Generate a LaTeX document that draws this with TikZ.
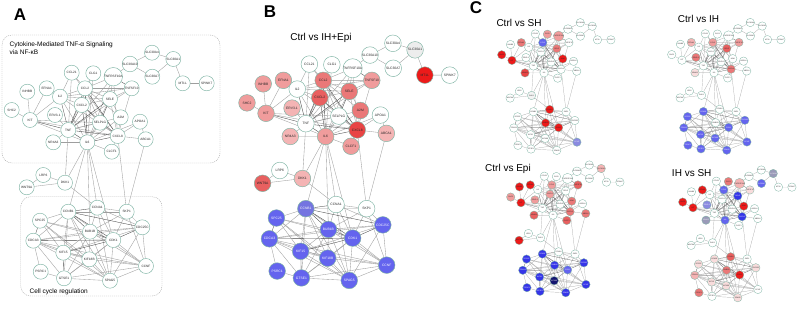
\documentclass[tikz,border=0pt]{standalone}
\usepackage{fontspec}
\setmainfont{Liberation Sans}
\pgfdeclarelayer{bg}
\pgfdeclarelayer{edges}
\pgfsetlayers{bg,edges,main}
\definecolor{nodeb}{HTML}{7DB3A3}
\newcommand\defpal[3]{\definecolor{pal#1}{HTML}{#2}\expandafter\def\csname tc-#1\endcsname{#3}}
\defpal{W}{FFFFFF}{black!85}
\defpal{G1}{EDEDED}{black!85}
\defpal{G2}{F3F3F3}{black!85}
\defpal{P1}{F8DCDC}{black!85}
\defpal{P2}{F4B4B4}{black!85}
\defpal{P3}{F09C9C}{black!85}
\defpal{P4}{EA7878}{black!85}
\defpal{R1}{E86060}{black!85}
\defpal{R2}{E84444}{black!85}
\defpal{R3}{EC1A1A}{black!85}
\defpal{BL1}{8A8AE0}{white}
\defpal{BLc}{7474E0}{white}
\defpal{BL2}{6464EE}{white}
\defpal{BL3}{3535E8}{white}
\defpal{BL4}{151570}{white}
\defpal{GB}{9A9AB8}{white}
\newcommand\gfont{\fontsize{3.2}{3.4}\selectfont}
\tikzset{
 gnode/.style={circle, draw=nodeb, line width=\bline, minimum size=\gsize, inner sep=0pt, font=\gfont},
 gedge/.style={draw=black!38, line width=\eline},
 sedge/.style={draw=black!72, line width=\eline},
 ptitle/.style={font=\fontsize{10}{12}\selectfont},
 plabel/.style={font=\fontsize{17}{20}\selectfont\bfseries},
 gbox/.style={draw=black!35, dash pattern=on 1pt off 1pt, rounded corners=10pt, line width=0.4pt}
}
\newcommand\setc[3]{\foreach \gitem in {#2}{\expandafter\gdef\csname nc-#1-\gitem\endcsname{#3}}}
\newcommand\gn[4]{%
  \def\gcol{W}%
  \ifcsname nc-\pfx-#1\endcsname\edef\gcol{\csname nc-\pfx-#1\endcsname}\fi
  \edef\gtxt{\csname tc-\gcol\endcsname}%
  \edef\gfill{pal\gcol}%
  \node[gnode, fill=\gfill, text=\gtxt] (\pfx-#1) at (#2,#3) {#4};}
\newcommand\gnodes{%
\gn{SLCa4}{152}{52.7}{SLC30A4}
\gn{SLCa1}{173.3}{59}{SLC30A1}
\gn{SLCa10}{130}{64}{SLC30A10}
\gn{SLCa7}{152.3}{76.7}{SLC30A7}
\gn{MT}{182.7}{83.3}{MT1L}
\gn{SPINK7}{206.7}{83.3}{SPINK7}
\gn{CCL21}{71.7}{72.7}{CCL21}
\gn{CLG1}{93.3}{73.3}{CLG1}
\gn{TNFRSF}{113.3}{76.7}{TNFRSF10A}
\gn{EFNA1}{46.7}{88.3}{EFNA1}
\gn{INHBB}{27.3}{91.7}{INHBB}
\gn{IL2}{60}{96.7}{IL2}
\gn{CCL2}{85}{88.3}{CCL2}
\gn{TNFSF}{131.7}{88.3}{TNFSF10}
\gn{SELE}{110}{99}{SELE}
\gn{CXCL2}{81.7}{105}{CXCL2}
\gn{SHC2}{11.7}{110}{SHC2}
\gn{KIT}{30}{120}{KIT}
\gn{ERV}{55}{115}{ERV3-1}
\gn{A2M}{120.7}{117.3}{A2M}
\gn{APOA1}{140}{121.7}{APOA1}
\gn{SELPLG}{100}{122.7}{SELPLG}
\gn{TNF}{68.3}{130}{TNF}
\gn{CXCL8}{117.7}{136}{CXCL8}
\gn{ABCA1}{145.7}{139.3}{ABCA1}
\gn{NR4A3}{53.3}{142.3}{NR4A3}
\gn{IL6}{87.3}{142.3}{IL6}
\gn{CLCF1}{111.7}{151.7}{CLCF1}
\gn{LRP6}{43.3}{175}{LRP6}
\gn{DKK1}{65}{182.7}{DKK1}
\gn{WNT9A}{26.7}{187.3}{WNT9A}
\gn{CCNB1}{68.3}{211.7}{CCNB1}
\gn{CCNA1}{97.3}{207.7}{CCNA1}
\gn{SKP1}{126.7}{211.7}{SKP1}
\gn{SPC25}{40}{220.7}{SPC25}
\gn{BUB1B}{90}{231.7}{BUB1B}
\gn{CDC25C}{142.3}{227.3}{CDC25C}
\gn{CDCA3}{33.3}{240.7}{CDCA3}
\gn{CDK1}{113.3}{240}{CDK1}
\gn{KIF15}{63.3}{252.7}{KIF15}
\gn{KIF18B}{89.3}{259.3}{KIF18B}
\gn{CCNF}{146}{266}{CCNF}
\gn{PSRC1}{40.7}{271.7}{PSRC1}
\gn{GTSE1}{64}{278.3}{GTSE1}
\gn{SPAG5}{110}{280.7}{SPAG5}
}
\newcommand\gedges{%
\foreach \ea/\eb in {SLCa4/SLCa10, SLCa4/SLCa1, SLCa10/SLCa7, SLCa1/SLCa7, SLCa1/MT, MT/SPINK7, SLCa10/TNFRSF,
INHBB/KIT, SHC2/KIT, EFNA1/KIT, KIT/IL2, KIT/IL6, KIT/CXCL8, KIT/SELPLG,
EFNA1/IL2, IL2/CCL21, IL2/CCL2, IL2/IL6, IL2/SELE, IL2/CXCL8, IL2/TNFSF, IL2/CXCL2,
CCL21/CCL2, CCL21/CXCL8, CCL21/TNF, CLG1/CCL2, CLG1/IL6, CLG1/TNF,
TNFRSF/CCL2, TNFRSF/SELE, TNFRSF/IL6, TNFRSF/TNF, TNFRSF/CXCL8,
CCL2/SELE, CCL2/CXCL2, CCL2/TNFSF, CCL2/SELPLG, CCL2/A2M,
TNFSF/SELE, TNFSF/TNF, TNFSF/CXCL8, SELE/CXCL8, SELE/IL6, SELE/CXCL2, SELE/A2M,
CXCL2/SELPLG, ERV/TNF, A2M/IL6, A2M/CXCL8, A2M/TNF, APOA1/CXCL8, APOA1/ABCA1, APOA1/IL6,
SELPLG/TNF, SELPLG/IL6, SELPLG/CXCL8, TNF/NR4A3, CXCL8/ABCA1, CXCL8/CLCF1, IL6/CLCF1, IL6/NR4A3,
IL6/DKK1, TNF/DKK1, IL6/CCNB1, IL6/CCNA1, IL6/BUB1B, IL6/CDK1, CXCL8/SKP1, ABCA1/SKP1, DKK1/CCNA1,
LRP6/DKK1, LRP6/WNT9A, DKK1/WNT9A,
CCNB1/SPC25, CCNB1/CDCA3, CCNB1/KIF15, CCNB1/KIF18B, CCNB1/SPAG5, CCNB1/GTSE1, CCNB1/CCNF, CCNB1/SKP1,
CCNA1/SKP1, CCNA1/CDK1, CCNA1/BUB1B, CCNA1/CDC25C, CCNA1/SPAG5,
SKP1/CDC25C, SKP1/CDK1, SKP1/CCNF, SKP1/BUB1B,
SPC25/BUB1B, SPC25/CDK1, SPC25/KIF15, SPC25/SPAG5, SPC25/KIF18B,
BUB1B/CDCA3, BUB1B/KIF15, BUB1B/KIF18B, BUB1B/SPAG5, BUB1B/GTSE1, BUB1B/CDC25C, BUB1B/CCNF,
CDC25C/CDCA3, CDC25C/KIF15, CDC25C/CCNF, CDC25C/SPAG5,
CDCA3/KIF15, CDCA3/KIF18B, CDCA3/GTSE1, CDCA3/SPAG5, CDCA3/PSRC1, CDCA3/CCNF,
CDK1/KIF18B, CDK1/SPAG5, CDK1/GTSE1, CDK1/CCNF,
KIF15/KIF18B, KIF15/SPAG5, KIF15/CCNF,
KIF18B/GTSE1, KIF18B/SPAG5, KIF18B/CCNF,
CCNF/SPAG5, CCNF/GTSE1, GTSE1/SPAG5, GTSE1/PSRC1}{\draw[gedge] (\pfx-\ea) -- (\pfx-\eb);}
\foreach \ea/\eb in {IL2/TNF, CCL2/TNF, CCL2/IL6, CCL2/CXCL8, TNF/IL6, TNF/CXCL8, IL6/CXCL8, SELE/SELPLG,
CXCL2/TNF, CXCL2/IL6, CXCL2/CXCL8, TNFRSF/TNFSF, SELE/TNF, KIT/TNF,
CCNB1/CDK1, CCNB1/CDC25C, CDK1/CDC25C, CCNB1/BUB1B, BUB1B/CDK1, CDCA3/CDK1, KIF15/CDK1,
CCNB1/CCNA1, CDCA3/SPC25, KIF15/GTSE1}{\draw[sedge] (\pfx-\ea) -- (\pfx-\eb);}
}
\newcommand\network{\gnodes\begin{pgfonlayer}{edges}\gedges\end{pgfonlayer}}
% colours per panel
\setc{B}{SHC2,INHBB,EFNA1,KIT,TNFSF,IL6,CLCF1}{P3}
\setc{B}{ERV,ABCA1,NR4A3,DKK1}{P2}
\setc{B}{CCL2,SELE,A2M}{P4}
\setc{B}{CXCL2,WNT9A}{R1}
\setc{B}{CXCL8}{R2}
\setc{B}{MT}{R3}
\setc{B}{SLCa1}{G1}
\setc{B}{CCNB1}{BLc}
\setc{B}{SPC25,BUB1B,CDC25C,CDCA3,CDK1,KIF15,KIF18B,CCNF,PSRC1,GTSE1,SPAG5}{BL2}
\setc{SH}{SHC2,KIT,A2M,CCNA1,BUB1B,CDK1}{R3}
\setc{SH}{NR4A3}{R2}
\setc{SH}{CLG1,TNFRSF}{P3}
\setc{SH}{EFNA1,SELE}{P4}
\setc{SH}{CCL2}{BL2}
\setc{SH}{CCNF}{BL1}
\setc{SH}{DKK1}{G2}
\setc{IH}{EFNA1}{P2}
\setc{IH}{CCL2,TNFSF}{P3}
\setc{IH}{ERV,CXCL8}{P4}
\setc{IH}{SELE}{R1}
\setc{IH}{NR4A3}{P1}
\setc{IH}{CCNB1,SPC25,CDC25C,CDCA3,CDK1,KIF15,KIF18B,CCNF,PSRC1,GTSE1,SPAG5}{BL2}
\setc{Epi}{INHBB,EFNA1,KIT,WNT9A}{R3}
\setc{Epi}{SHC2,CCL2,ERV,CXCL2}{P3}
\setc{Epi}{TNFSF,NR4A3,CLCF1}{R1}
\setc{Epi}{A2M,CXCL8,ABCA1}{P4}
\setc{Epi}{SLCa1}{P2}
\setc{Epi}{CCNB1,SPC25,BUB1B,CDC25C,CDCA3,KIF15,CCNF,PSRC1,GTSE1,SPAG5}{BL3}
\setc{Epi}{CDK1}{BL2}
\setc{Epi}{KIF18B}{BL4}
\setc{IS}{SLCa1,NR4A3}{GB}
\setc{IS}{SLCa7,CCL2,IL6}{BL2}
\setc{IS}{SELE,CXCL8}{BL3}
\setc{IS}{ERV}{BL1}
\setc{IS}{CLG1,BUB1B,PSRC1}{P4}
\setc{IS}{TNFRSF,CDCA3}{P2}
\setc{IS}{TNFSF,CCNB1,SPC25,CDC25C,KIF15,KIF18B,SPAG5}{P1}
\setc{IS}{EFNA1,SHC2,KIT,A2M,CDK1}{R3}
\setc{IS}{CCNA1}{R1}
\begin{document}
\begin{tikzpicture}[x=1pt,y=-1pt]
\useasboundingbox (0,0) rectangle (800,308);
\begin{pgfonlayer}{bg}
\fill[white] (0,0) rectangle (800,308);
\end{pgfonlayer}
% panel A
\draw[gbox] (2,35) rectangle (220,163);
\draw[gbox] (20.7,196.7) rectangle (162,296);
\begin{scope}
\def\pfx{A}\def\gsize{15pt}\def\eline{0.35pt}\def\bline{0.45pt}
\network
\end{scope}
\node[font=\fontsize{6.5}{8.5}\selectfont, align=left, anchor=north west, inner sep=0pt] (tCyt) at (9.5,41.5) {Cytokine-Mediated TNF-α Signaling\\via NF-κB};
\node[font=\fontsize{6.5}{8}\selectfont, anchor=west, inner sep=0pt] (tCell) at (29.5,291.5) {Cell cycle regulation};
% panel B
\begin{scope}[shift={(234.83,-11.51)}, scale=1.04, transform shape]
\def\pfx{B}\def\gsize{16pt}\def\eline{0.35pt}\def\bline{0.45pt}
\network
\end{scope}
\node[ptitle] (tB) at (321,38.3) {Ctrl vs IH+Epi};
% panel C
\begin{scope}[shift={(495.15,-6.81)}, scale=0.56, transform shape]
\def\pfx{SH}\def\gsize{15pt}\def\eline{0.2pt}\def\bline{0.3pt}
\network
\end{scope}
\begin{scope}[shift={(665.15,-7)}, scale=0.56, transform shape]
\def\pfx{IH}\def\gsize{15pt}\def\eline{0.2pt}\def\bline{0.3pt}
\network
\end{scope}
\begin{scope}[shift={(504.15,135.49)}, scale=0.56, transform shape]
\def\pfx{Epi}\def\gsize{15pt}\def\eline{0.2pt}\def\bline{0.3pt}
\network
\end{scope}
\begin{scope}[shift={(676.15,140.49)}, scale=0.56, transform shape]
\def\pfx{IS}\def\gsize{15pt}\def\eline{0.2pt}\def\bline{0.3pt}
\network
\end{scope}
\node[ptitle] (tSH) at (519,22.7) {Ctrl vs SH};
\node[ptitle] (tIH) at (698.5,19) {Ctrl vs IH};
\node[ptitle] (tEpi) at (508,169) {Ctrl vs Epi};
\node[ptitle] (tIS) at (691.7,173.3) {IH vs SH};
\node[plabel] (LA) at (20,14.5) {A};
\node[plabel] (LB) at (270,11.5) {B};
\node[plabel] (LC) at (476,8) {C};
\end{tikzpicture}
\end{document}
